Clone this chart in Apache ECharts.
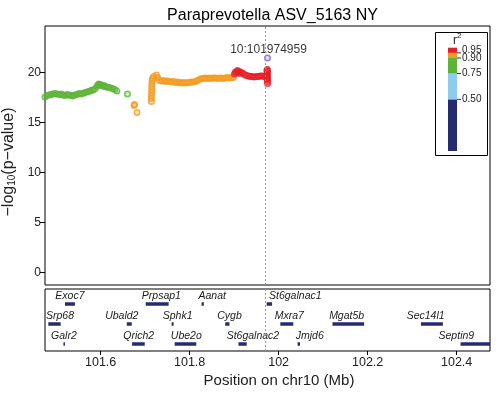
<!DOCTYPE html>
<html><head><meta charset="utf-8">
<script src="https://cdn.jsdelivr.net/npm/echarts@6/dist/echarts.min.js"></script>
<style>html,body{margin:0;padding:0;background:#fff}#c{width:496px;height:395px}</style>
</head><body><div id="c"></div>
<script>
// ---------------- data ----------------
const titleText = 'Paraprevotella ASV_5163 NY';
const leadName = '10:101974959';
const leadPoint = [[101.974959, 21.45]];
const xRange = [101.474959, 102.474959];
const xTicks = [101.6, 101.8, 102, 102.2, 102.4];
const yTicks = [0, 5, 10, 15, 20];
const yRange = [-1.25, 24.65];

// r2 0.75-0.90 (green)
const greenPts = [
  [101.4750,17.55],[101.4794,17.7],[101.4839,17.75],[101.4884,17.8],[101.4929,17.85],[101.4974,17.9],
  [101.5019,17.85],[101.5063,17.8],[101.5108,17.85],[101.5153,17.75],[101.5198,17.7],[101.5243,17.8],
  [101.5288,17.75],[101.5332,17.7],[101.5377,17.65],[101.5422,17.75],[101.5467,17.8],[101.5512,17.9],
  [101.5556,17.85],[101.5601,17.9],[101.5646,18.0],[101.5691,18.05],[101.5736,18.1],[101.5780,18.2],
  [101.5825,18.25],[101.5870,18.35],[101.5915,18.6],[101.5937,18.75],[101.5960,18.85],[101.5982,18.8],
  [101.6004,18.75],[101.6049,18.65],[101.6071,18.7],[101.6094,18.6],[101.6139,18.55],[101.6184,18.5],
  [101.6229,18.45],[101.6273,18.4],[101.6318,18.3],[101.6363,18.15],[101.6603,17.85]
];
// r2 0.90-0.95 (orange)
const orangePts = [
  [101.6751,16.7],[101.6760,16.8],[101.6818,16.0],
  [101.7141,17.1],[101.7141,17.4],[101.7143,17.7],[101.7145,18.0],[101.7147,18.3],[101.7150,18.6],
  [101.7153,18.9],[101.7157,19.2],[101.7165,19.4],[101.7192,19.6],[101.7253,19.75],[101.7282,19.5],
  [101.7324,19.2],[101.7369,19.15],[101.7414,19.2],[101.7459,19.1],[101.7503,19.15],[101.7548,19.1],
  [101.7593,19.05],[101.7638,19.1],[101.7683,19.0],[101.7728,19.05],[101.7772,19.0],[101.7817,18.95],
  [101.7862,19.0],[101.7907,18.95],[101.7952,19.0],[101.7997,19.0],[101.8041,19.05],[101.8086,19.05],
  [101.8131,19.1],[101.8176,19.2],[101.8221,19.3],[101.8265,19.4],[101.8310,19.4],[101.8355,19.45],
  [101.8400,19.4],[101.8445,19.45],[101.8490,19.4],[101.8534,19.45],[101.8579,19.45],[101.8624,19.4],
  [101.8669,19.45],[101.8714,19.45],[101.8758,19.4],[101.8803,19.45],[101.8848,19.5],[101.8893,19.45],
  [101.8938,19.5],[101.8982,19.5]
];
// r2 0.95-1 (red)
const redPts = [
  [101.9007,19.85],[101.9030,20.05],[101.9052,20.0],[101.9075,20.2],[101.9097,20.1],[101.9120,19.9],
  [101.9141,20.05],[101.9186,19.95],[101.9231,19.8],[101.9276,19.7],[101.9321,19.65],[101.9365,19.6],
  [101.9410,19.6],[101.9455,19.55],[101.9500,19.6],[101.9545,19.6],[101.9589,19.65],[101.9634,19.65],
  [101.9679,19.6],[101.9713,19.7],[101.9735,20.2],[101.9735,19.4],
  [101.9747,20.3],[101.9748,20.1],[101.9749,19.9],[101.9749,19.7],[101.9749,19.5],[101.9749,19.3],
  [101.9750,19.1],[101.9750,18.9]
];

// r2 legend
const r2Breaks = [0, 0.5, 0.75, 0.9, 0.95, 1];
const r2Colors = ['#262a6e', '#8ecbed', '#5cb337', '#f39b1f', '#e51f27'];
const r2Fills = ['rgba(38,42,110,0.35)', 'rgba(142,203,237,0.35)', 'rgba(92,179,55,0.35)', 'rgba(243,155,31,0.35)', 'rgba(229,31,39,0.35)'];
const r2Labels = ['0.50', '0.75', '0.90', '0.95'];
const leadColor = '#7e63b8';

// genes
const geneNames = ['Exoc7','Prpsap1','Aanat','St6galnac1','Srp68','Ubald2','Sphk1','Cygb','Mxra7','Mgat5b','Sec14l1','Galr2','Qrich2','Ube2o','St6galnac2','Jmjd6','Septin9'];
const geneStart = [101.5198,101.7013,101.8268,101.9731,101.4824,101.6587,101.7595,101.8799,102.0038,102.1210,102.3198,101.5164,101.6706,101.7663,101.9097,102.0426,102.4088];
const geneEnd   = [101.5422,101.7528,101.8319,101.9852,101.5101,101.6699,101.7640,101.8895,102.0329,102.1921,102.3691,101.5187,101.6991,101.8149,101.9283,102.0480,102.5200];
const geneRow   = [1,1,1,1,2,2,2,2,2,2,2,3,3,3,3,3,3];
const geneLabelPos = [101.5310,101.7365,101.8508,102.0374,101.5086,101.6475,101.7730,101.8895,102.0240,102.1528,102.3303,101.5175,101.6856,101.7925,101.9422,102.0699,102.3993];

// ---------------- chart ----------------
const FONT = 'Liberation Sans';
const chart = echarts.init(document.getElementById('c'), null, {renderer: 'canvas'});

function ptSeries(name, data, color, fill) {
  return {
    name, type: 'scatter', xAxisIndex: 0, yAxisIndex: 0, data,
    symbol: 'circle', symbolSize: 5.5,
    itemStyle: {color: fill, borderColor: color, borderWidth: 1.5},
    emphasis: {disabled: true}, z: 3
  };
}

const geneData = geneNames.map((n, i) => [geneStart[i], geneEnd[i], geneRow[i], geneLabelPos[i], n]);

// legend graphic built from r2 arrays
const lgX = 448, lgW = 9, lgTop = 47.7, lgBot = 151;
const r2y = v => lgBot - (lgBot - lgTop) * v;
const legendEls = [
  {type: 'rect', shape: {x: 435.5, y: 32.5, width: 52, height: 123}, style: {fill: '#fff', stroke: '#000', lineWidth: 1}, z: 10}
];
r2Colors.forEach((c, i) => {
  legendEls.push({type: 'rect', shape: {x: lgX, y: r2y(r2Breaks[i + 1]), width: lgW, height: r2y(r2Breaks[i]) - r2y(r2Breaks[i + 1])}, style: {fill: c}, z: 11});
});
const labelOffsets = [0, 0, 0.5, -3];
r2Labels.forEach((t, i) => {
  const v = parseFloat(t);
  legendEls.push({type: 'line', shape: {x1: lgX + lgW, y1: r2y(v), x2: lgX + lgW + 4, y2: r2y(v)}, style: {stroke: '#333', lineWidth: 1}, z: 11});
  legendEls.push({type: 'text', x: lgX + lgW + 5, y: r2y(v) + labelOffsets[i], style: {text: t, fontSize: 10, fontFamily: FONT, fill: '#222', verticalAlign: 'middle', align: 'left'}, z: 11});
});
legendEls.push({type: 'text', x: 453, y: 41, style: {text: 'r', fontSize: 12, fontFamily: FONT, fill: '#222', verticalAlign: 'middle'}, z: 11});
legendEls.push({type: 'text', x: 457, y: 35.5, style: {text: '2', fontSize: 8, fontFamily: FONT, fill: '#222', verticalAlign: 'middle'}, z: 11});

const option = {
  animation: false,
  backgroundColor: '#fff',
  title: {
    text: titleText, left: 267.5, top: 3, textAlign: 'center',
    textStyle: {fontSize: 16, fontWeight: 'normal', fontFamily: FONT, color: '#000'}
  },
  grid: [
    {left: 45, top: 26, width: 445, height: 259, show: true, borderColor: '#000', borderWidth: 1, backgroundColor: 'transparent', containLabel: false, outerBoundsMode: 'none'},
    {left: 45, top: 289, width: 445, height: 62, show: true, borderColor: '#000', borderWidth: 1, backgroundColor: 'transparent', containLabel: false, outerBoundsMode: 'none'}
  ],
  xAxis: [
    {gridIndex: 0, type: 'value', min: xRange[0], max: xRange[1],
     axisLine: {show: false}, axisTick: {show: false}, axisLabel: {show: false}, splitLine: {show: false}},
    {gridIndex: 1, type: 'value', min: xRange[0], max: xRange[1],
     axisLine: {show: false}, splitLine: {show: false},
     axisTick: {show: true, length: 4, lineStyle: {color: '#000'}, customValues: xTicks},
     axisLabel: {show: true, customValues: xTicks, margin: 5, fontSize: 12.5, fontFamily: FONT, color: '#222',
       formatter: v => String(+v.toFixed(1))}}
  ],
  yAxis: [
    {gridIndex: 0, type: 'value', min: yRange[0], max: yRange[1],
     axisLine: {show: false}, splitLine: {show: false},
     axisTick: {show: true, length: 5, lineStyle: {color: '#000'}, customValues: yTicks},
     axisLabel: {show: true, customValues: yTicks, margin: 4, fontSize: 12, fontFamily: FONT, color: '#222'},
     name: '{a|\u2212log}{b|10}{a|(p\u2212value)}', nameLocation: 'middle', nameGap: 24, nameRotate: 90,
     nameTextStyle: {fontFamily: FONT, color: '#222', padding: [0, 13, 0, 0],
       rich: {a: {fontSize: 16, fontFamily: FONT, color: '#222', verticalAlign: 'middle'},
              b: {fontSize: 10, fontFamily: FONT, color: '#222', verticalAlign: 'bottom', padding: [6, 0, 0, 0]}}}},
    {gridIndex: 1, type: 'value', min: 0.25, max: 3.35, inverse: true, show: false}
  ],
  graphic: [
    {type: 'text', x: 279, y: 381, style: {text: 'Position on chr10 (Mb)', fontSize: 15, fontFamily: FONT, fill: '#222', align: 'center', verticalAlign: 'middle'}},
    ...legendEls
  ],
  series: [
    Object.assign(ptSeries('r2 0.75-0.90', greenPts, r2Colors[2], r2Fills[2]), {
      markLine: {silent: true, symbol: 'none', label: {show: false},
        lineStyle: {color: '#999', type: [2, 2], width: 1}, data: [{xAxis: leadPoint[0][0]}]}
    }),
    ptSeries('r2 0.90-0.95', orangePts, r2Colors[3], r2Fills[3]),
    ptSeries('r2 0.95-1', redPts, r2Colors[4], r2Fills[4]),
    {
      name: 'lead', type: 'scatter', xAxisIndex: 0, yAxisIndex: 0, data: leadPoint,
      symbol: 'circle', symbolSize: 5.5, z: 4,
      itemStyle: {color: 'rgba(126,99,184,0.25)', borderColor: leadColor, borderWidth: 1.5},
      label: {show: true, position: 'top', distance: 1, offset: [1, 2.5], formatter: leadName, fontSize: 12, fontFamily: FONT, color: '#000'}
    },
    {
      name: 'genes', type: 'custom', xAxisIndex: 1, yAxisIndex: 1, data: geneData,
      encode: {x: [0, 1], y: 2},
      clip: true,
      markLine: {silent: true, symbol: 'none', label: {show: false},
        lineStyle: {color: '#999', type: [2, 2], width: 1}, data: [{xAxis: leadPoint[0][0]}]},
      renderItem: (params, api) => {
        const p0 = api.coord([api.value(0), api.value(2)]);
        const p1 = api.coord([api.value(1), api.value(2)]);
        const pl = api.coord([api.value(3), api.value(2)]);
        const cs = params.coordSys;
        const x0 = Math.max(p0[0], cs.x), x1 = Math.min(p1[0], cs.x + cs.width);
        const w = Math.max(x1 - x0, 1.5);
        return {type: 'group', children: [
          {type: 'rect', shape: {x: x0, y: p0[1] - 1.75, width: w, height: 3.5}, style: {fill: '#262a6e'}},
          {type: 'text', x: pl[0], y: p0[1] - 8, style: {text: api.value(4), fontSize: 10.5, fontStyle: 'italic', fontFamily: FONT, fill: '#1a1a1a', align: 'center', verticalAlign: 'middle'}}
        ]};
      }
    }
  ]
};
chart.setOption(option);
</script>
</body></html>
